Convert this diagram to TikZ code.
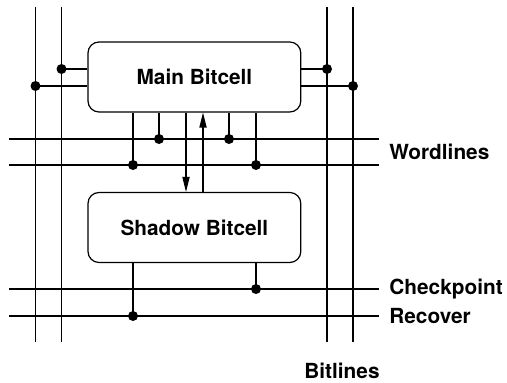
\documentclass[tikz,border=0pt]{standalone}
\usepackage{fontspec}
\setmainfont{TeX Gyre Heros}
\usetikzlibrary{arrows.meta}

\tikzset{
  cell/.style={draw, line width=0.6pt, rounded corners=5.5pt, minimum width=106.4pt, minimum height=35pt,
    font=\bfseries\fontsize{10.4}{12}\selectfont},
  wire/.style={line width=0.6pt},
  dot/.style={circle, fill, inner sep=0pt, minimum size=5pt},
  lbl/.style={font=\bfseries\fontsize{10.4}{12}\selectfont, inner sep=0pt},
}

\begin{document}
\begin{tikzpicture}[x=0.5pt,y=-0.5pt,>={Triangle[length=7.5pt,width=3.6pt]}]
	\useasboundingbox (0,0) rectangle (507,383);

	%the two cells
	\node[cell] (main)   at (194.4,77)    {Main Bitcell};
	\node[cell] (shadow) at (194.4,227.5) {Shadow Bitcell};

	%bitlines (vertical)
	\foreach \nm/\x in {bla/35.5, blb/61.5, blc/327, bld/353} {
		\coordinate (\nm t) at (\x,7);
		\coordinate (\nm b) at (\x,342);
		\draw[wire] (\nm t) -- (\nm b);
	}
	%wordlines, checkpoint, recover (horizontal)
	\foreach \nm/\y in {wla/139, wlb/165, ck/289, rc/316} {
		\coordinate (\nm w) at (9,\y);
		\coordinate (\nm e) at (379,\y);
		\draw[wire] (\nm w) -- (\nm e);
	}

	%taps on the main cell
	\node[dot] (d1) at (61.5,69) {};
	\node[dot] (d2) at (35.5,86) {};
	\node[dot] (d3) at (327,69)  {};
	\node[dot] (d4) at (353,86)  {};
	\draw[wire] (d1.center) -- (d1.center -| main.west);
	\draw[wire] (d2.center) -- (d2.center -| main.west);
	\draw[wire] (d3.center) -- (d3.center -| main.east);
	\draw[wire] (d4.center) -- (d4.center -| main.east);
	%
	\node[dot] (d5) at (133,165) {};
	\node[dot] (d6) at (159,139) {};
	\node[dot] (d7) at (229,139) {};
	\node[dot] (d8) at (256,165) {};
	\foreach \d in {d5,d6,d7,d8}
		\draw[wire] (\d.center) -- (\d.center |- main.south);

	%copy between cells
	\coordinate (cpy) at (186,0);
	\coordinate (rst) at (203,0);
	\draw[wire,->] (main.south -| cpy) -- (shadow.north -| cpy);
	\draw[wire,->] (shadow.north -| rst) -- (main.south -| rst);

	%taps on the shadow cell
	\node[dot] (d9)  at (256,289) {};
	\node[dot] (d10) at (133,316) {};
	\draw[wire] (d9.center)  -- (d9.center |- shadow.south);
	\draw[wire] (d10.center) -- (d10.center |- shadow.south);

	%labels
	\node[lbl,anchor=west] (wl) at (389,152) {Wordlines};
	\node[lbl,anchor=west] (ckl) at (389,289) {Checkpoint};
	\node[lbl,anchor=west] (rcl) at (389,316) {Recover};
	\node[lbl] (bl) at (342,371) {Bitlines};
\end{tikzpicture}
\end{document}
